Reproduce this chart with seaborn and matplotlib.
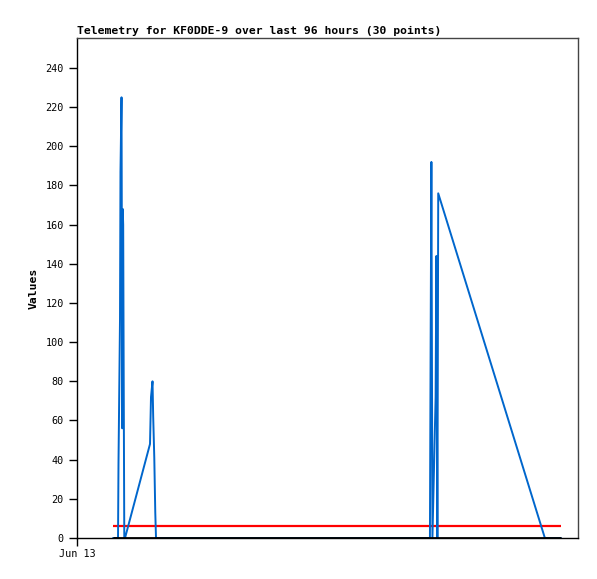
import pandas as pd
import seaborn as sns
import matplotlib.pyplot as plt

# horas desde Jun 13 00:00 e valores
hours = [6.90, 7.86, 7.95, 8.24, 8.33, 8.53, 8.68, 8.76, 8.85, 8.95,
         9.06, 9.20, 13.99, 14.18, 14.47, 14.60, 14.81, 15.00, 15.14, 67.64,
         67.77, 67.92, 68.12, 68.73, 68.88, 69.07, 69.23, 89.67, 92.74]
values = [0, 0, 38, 112, 187, 225, 56, 168, 160, 80,
          0, 0, 48, 72, 80, 62, 41, 13, 0, 0,
          96, 192, 0, 72, 144, 0, 176, 0, 0]
limite = 6
titulo = "Telemetry for KF0DDE-9 over last 96 hours (30 points)"
yticks = list(range(0, 241, 20))
xtick_labels = ["Jun 13"]

df = pd.DataFrame({"hora": hours, "valor": values})

sns.set_style("white")
plt.rcParams["font.family"] = ["DejaVu Sans Mono"]

fig = plt.figure(figsize=(5.97, 5.79), dpi=100)
ax = fig.add_axes([0.129, 0.0708, 0.839, 0.8636])

# linha do zero e linha limite
ax.hlines(0, df["hora"].min(), df["hora"].max(), color="black", lw=2, zorder=3)
ax.hlines(limite, df["hora"].min(), df["hora"].max(), color="#ff0000", lw=1.6, zorder=2)
sns.lineplot(data=df, x="hora", y="valor", sort=False, estimator=None,
             color="#0066cc", lw=1.4, ax=ax, zorder=2)

ax.set_xlim(0, 96)
ax.set_ylim(0, 255.3)
ax.set_yticks(yticks)
ax.set_xticks([0])
ax.set_xticklabels(xtick_labels)
ax.tick_params(axis="both", labelsize=7.3, length=6, width=1, color="black",
               direction="out", left=True, bottom=True, labelcolor="black")
ax.tick_params(axis="x", pad=2)

ax.set_xlabel("")
ax.set_ylabel("Values", fontsize=8.2, fontweight="bold", labelpad=5, color="black")
ax.set_title(titulo, fontsize=8.2, fontweight="bold", loc="left", pad=3, color="black")

for s in ["left", "bottom"]:
    ax.spines[s].set_color("black")
    ax.spines[s].set_linewidth(1)
for s in ["top", "right"]:
    ax.spines[s].set_color("#444444")
    ax.spines[s].set_linewidth(1)

plt.savefig("out.png", dpi=100)
